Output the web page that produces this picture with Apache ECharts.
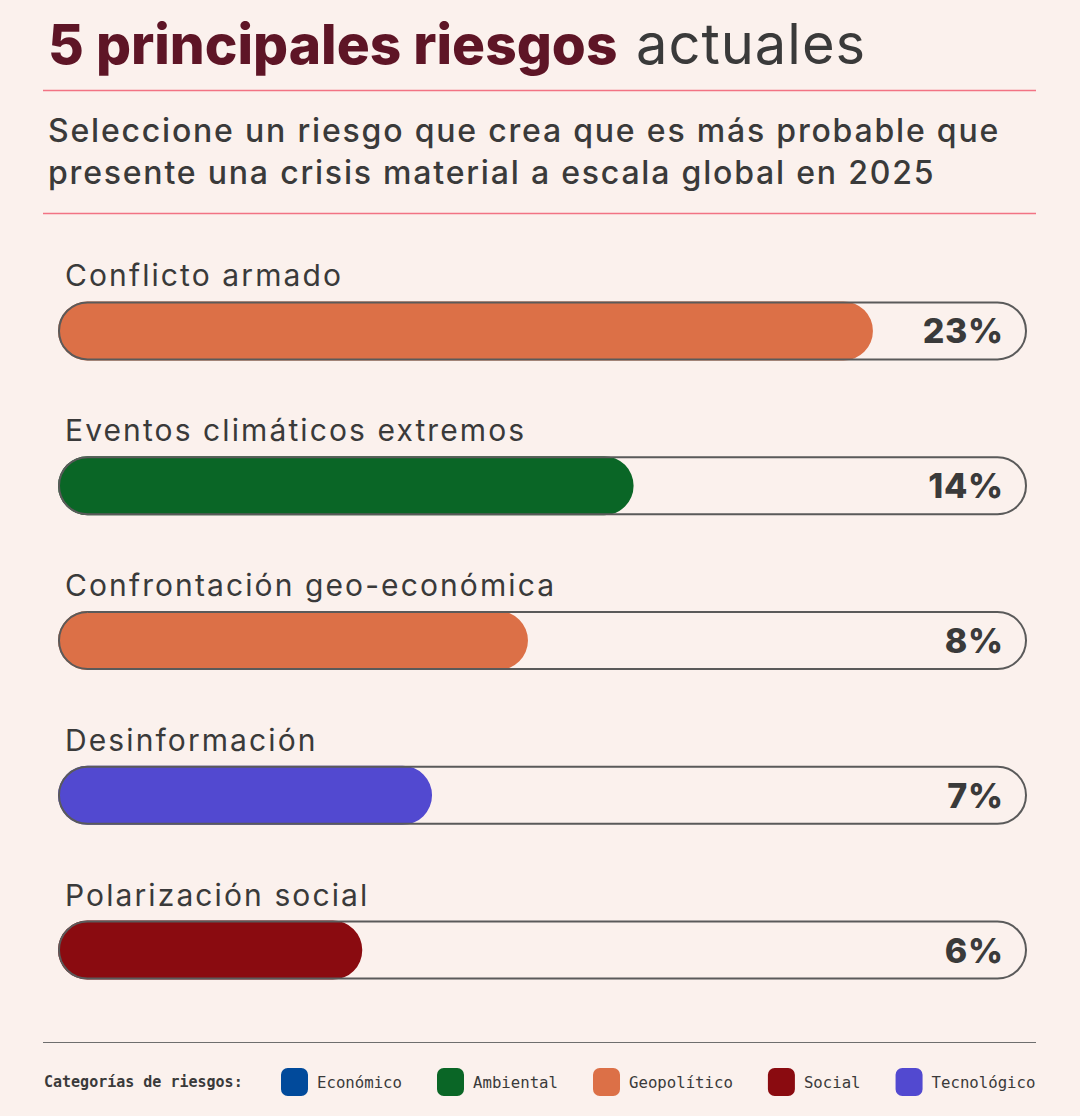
<!DOCTYPE html>
<html>
<head>
<meta charset="utf-8">
<script src="https://cdn.jsdelivr.net/npm/echarts@6/dist/echarts.min.js"></script>
<style>
  html, body { margin: 0; padding: 0; background: #fbf1ed; }
  #chart { width: 1080px; height: 1116px; }
  /* tracking of the reference typography */
  #chart text[style*="32px"] { letter-spacing: 1.8px; }
  #chart text[style*="30px"] { letter-spacing: 2.1px; }
  #chart text[style*="56px"] { letter-spacing: 1px; }
  #chart text[style*="34px"] { letter-spacing: 0.6px; }
</style>
</head>
<body>
<div id="chart"></div>
<script>
// ---- data ----
const risks = ['Conflicto armado', 'Eventos climáticos extremos', 'Confrontación geo-económica', 'Desinformación', 'Polarización social'];
const shares = [23, 14, 8, 7, 6];                   // percentage labels
const fillLevels = [84.1, 59.4, 48.5, 38.6, 31.4];  // bar fill (track = 100)
const riskCategory = ['Geopolítico', 'Ambiental', 'Geopolítico', 'Tecnológico', 'Social'];
const categories = ['Económico', 'Ambiental', 'Geopolítico', 'Social', 'Tecnológico'];
const categoryColors = ['#014a9b', '#0a6626', '#dc7047', '#8a0b10', '#5249d0'];
const trackMax = 100;

const titleBold = '5 principales riesgos';
const titleRest = 'actuales';
const subtitleLines = ['Seleccione un riesgo que crea que es más probable que', 'presente una crisis material a escala global en 2025'];
const legendTitle = 'Categorías de riesgos:';

const colorOf = c => categoryColors[categories.indexOf(c)];
const FONT = 'Inter, "Noto Sans", sans-serif';
const MONO = '"DejaVu Sans Mono", "Liberation Mono", monospace';

const chart = echarts.init(document.getElementById('chart'), null, { renderer: 'svg' });

const legendSeries = categories.map((c, i) => ({
  name: c, type: 'line', data: [], color: categoryColors[i]
}));

chart.setOption({
  backgroundColor: '#fbf1ed',
  animation: false,
  graphic: [
    { type: 'text', style: { x: 48, y: 44, text: titleBold, fontFamily: FONT, fontSize: 55, fontWeight: 800, fill: '#5e1526', textVerticalAlign: 'middle' } },
    { type: 'text', style: { x: 636, y: 44, text: titleRest, fontFamily: FONT, fontSize: 56, fontWeight: 400, fill: '#3a3a3a', textVerticalAlign: 'middle' } },
    { type: 'text', style: { x: 48, y: 130, text: subtitleLines[0], fontFamily: FONT, fontSize: 32, fontWeight: 500, fill: '#3a3a3a', textVerticalAlign: 'middle' } },
    { type: 'text', style: { x: 48, y: 172, text: subtitleLines[1], fontFamily: FONT, fontSize: 32, fontWeight: 500, fill: '#3a3a3a', textVerticalAlign: 'middle' } },
    { type: 'line', shape: { x1: 43, y1: 90.5, x2: 1036, y2: 90.5 }, style: { stroke: '#f27384', lineWidth: 1.3 } },
    { type: 'line', shape: { x1: 43, y1: 213.5, x2: 1036, y2: 213.5 }, style: { stroke: '#f27384', lineWidth: 1.3 } },
    { type: 'line', shape: { x1: 43, y1: 1042.5, x2: 1036, y2: 1042.5 }, style: { stroke: '#6e6e6e', lineWidth: 1.2 } },
    { type: 'text', style: { x: 44, y: 1082, text: legendTitle, fontFamily: MONO, fontSize: 15, fontWeight: 'bold', fill: '#3a3a3a', textVerticalAlign: 'middle' } }
  ],
  legend: {
    left: 281, top: 1068, padding: 0,
    itemWidth: 27, itemHeight: 28, itemGap: 35,
    icon: 'roundRect',
    selectedMode: false,
    textStyle: { fontFamily: MONO, fontSize: 15.7, color: '#3a3a3a', padding: [0, 0, 0, 4] },
    data: categories
  },
  grid: { left: 58, right: 53, top: 253.5, bottom: 88.5 },
  xAxis: { type: 'value', min: 0, max: trackMax, show: false },
  yAxis: { type: 'category', data: risks, inverse: true, show: false },
  series: [
    {
      type: 'bar', name: 'fill', barWidth: 59, barGap: '-100%', z: 2,
      data: fillLevels.map((v, i) => ({ value: v, itemStyle: { color: colorOf(riskCategory[i]) } })),
      itemStyle: { borderRadius: 29.5 },
      label: {
        show: true, position: [7, -26], align: 'left', verticalAlign: 'middle',
        formatter: p => risks[p.dataIndex],
        fontFamily: FONT, fontSize: 30, fontWeight: 400, color: '#3a3a3a'
      }
    },
    {
      type: 'bar', name: 'track', barWidth: 59, barGap: '-100%', z: 3,
      data: risks.map(() => trackMax),
      itemStyle: { color: 'rgba(0,0,0,0)', borderColor: '#5a5a5a', borderWidth: 2, borderRadius: 29.5 },
      label: {
        show: true, position: 'insideRight', distance: 23.5,
        formatter: p => shares[p.dataIndex] + '%',
        fontFamily: FONT, fontSize: 34, fontWeight: 800, color: '#3a3a3a'
      }
    },
    ...legendSeries
  ]
});
</script>
</body>
</html>
